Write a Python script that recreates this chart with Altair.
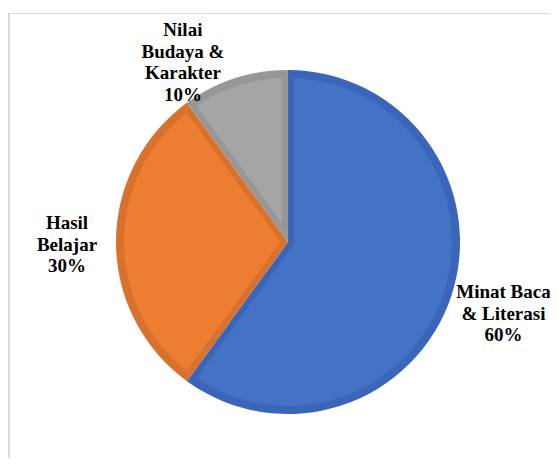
import math
import altair as alt
import pandas as pd

# ---- data ----
categories = ["Minat Baca & Literasi", "Hasil Belajar", "Nilai Budaya & Karakter"]
label_lines = ["Minat Baca\n& Literasi", "Hasil\nBelajar", "Nilai\nBudaya &\nKarakter"]
percent = [60, 30, 10]
fill_colors = ["#4472C4", "#ED7D31", "#A5A5A5"]
edge_colors = ["#3B65B8", "#D8712C", "#979797"]

df = pd.DataFrame({
    "category": categories,
    "label": [f"{l}\n{p}%" for l, p in zip(label_lines, percent)],
    "value": percent,
    "order": list(range(len(categories))),
})

# ---- geometry / style ----
W, H = 542, 450
CX, CY = 280, 234
R = 172
RIM = 8
SIDE = 6
R_IN = R - RIM

total = sum(percent)
base = alt.Chart(df).transform_stack(
    stack="value", groupby=[], as_=["v0", "v1"],
    sort=[alt.SortField("order", order="ascending")],
)

theta_scale = alt.Scale(domain=[0, total])
edge_scale = alt.Scale(domain=categories, range=edge_colors)

dark = base.mark_arc().encode(
    theta=alt.Theta("v0:Q", scale=theta_scale, stack=None),
    theta2="v1:Q",
    radius=alt.value(R),
    color=alt.Color("category:N", scale=edge_scale, legend=None),
    x=alt.value(CX), y=alt.value(CY),
)

layers = [dark]
for cat, val, fc in zip(categories, percent, fill_colors):
    half = val / total * math.pi
    r0 = SIDE / math.sin(min(half, math.pi / 2))
    rp = math.sqrt(r0 ** 2 + R_IN ** 2)
    pad = 2 * math.asin(SIDE / rp)
    layers.append(
        base.transform_filter(alt.datum.category == cat)
        .mark_arc(padAngle=pad)
        .encode(
            theta=alt.Theta("v0:Q", scale=theta_scale, stack=None),
            theta2="v1:Q",
            radius=alt.value(R_IN),
            radius2=alt.value(r0),
            color=alt.value(fc),
            x=alt.value(CX), y=alt.value(CY),
        )
    )

# label placement (radius, dx, dy) per category; dy targets the first line
label_pos = {
    "Minat Baca & Literasi": (235, -8, -22.5),
    "Hasil Belajar": (221, 0, -19),
    "Nilai Budaya & Karakter": (188, -47, -33),
}
for cat in categories:
    r, dx, dy = label_pos[cat]
    layers.append(
        base.transform_calculate(mid="(datum.v0 + datum.v1) / 2")
        .transform_filter(alt.datum.category == cat)
        .mark_text(font="Liberation Serif", fontWeight="bold", fontSize=19,
                   lineBreak="\n", lineHeight=21.5, align="center",
                   baseline="middle", color="#000000", dx=dx, dy=dy)
        .encode(
            theta=alt.Theta("mid:Q", scale=theta_scale, stack=None),
            radius=alt.value(r),
            text="label:N",
            x=alt.value(CX), y=alt.value(CY),
        )
    )

frame_df = pd.DataFrame({"k": [0]})
top_line = alt.Chart(frame_df).mark_rule(color="#D9D9D9", strokeWidth=1).encode(
    x=alt.value(0), x2=alt.value(W), y=alt.value(5.5)
)
left_line = alt.Chart(frame_df).mark_rule(color="#D9D9D9", strokeWidth=2).encode(
    x=alt.value(1), y=alt.value(5), y2=alt.value(H)
)
layers = [top_line, left_line] + layers

chart = alt.layer(*layers).properties(
    width=W, height=H, autosize="none", padding=0
).configure_view(stroke=None)

chart.save("out.html", embed_options={"renderer": "svg", "actions": False})
